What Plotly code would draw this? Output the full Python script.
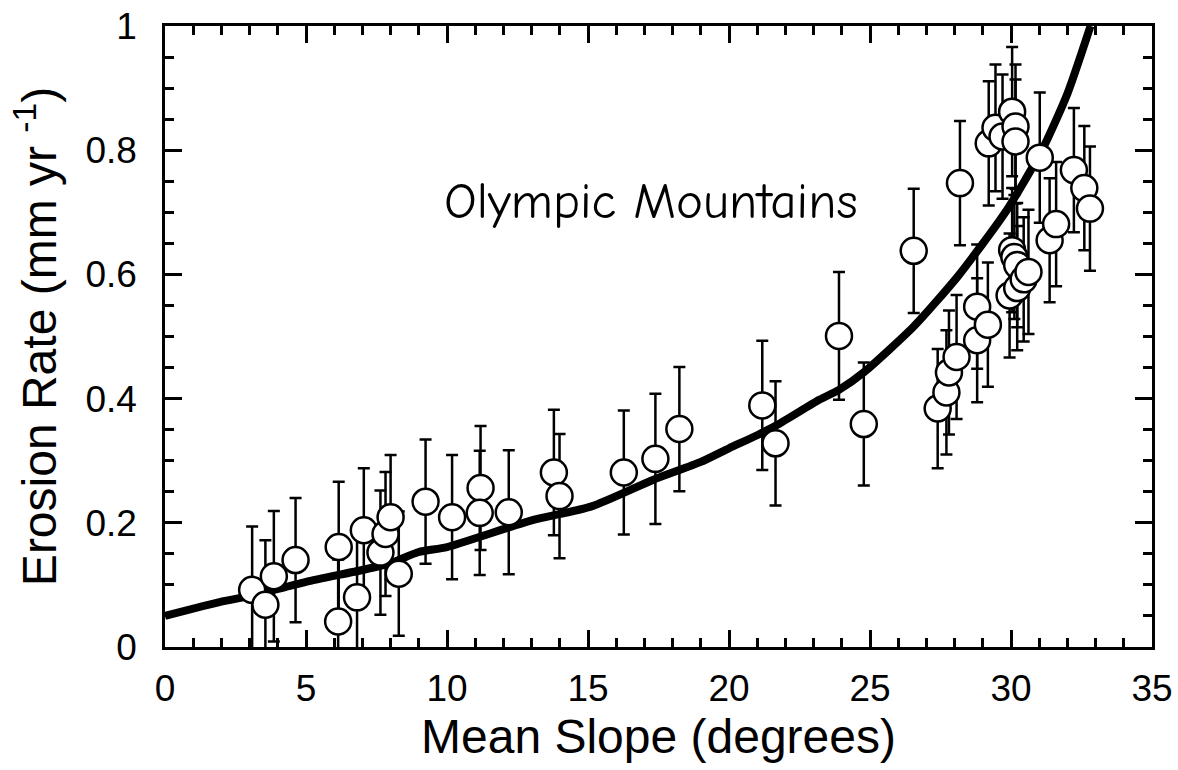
import plotly.graph_objects as go

# Data points (mean slope in degrees, erosion rate mm/yr, error)
slope = [3.09, 3.56, 3.86, 4.63, 6.16, 6.14, 6.81, 7.05, 7.64, 7.82, 8.00, 8.29,
         9.24, 10.18, 11.19, 11.16, 12.19, 13.79, 13.99, 16.27, 17.39, 18.24,
         21.18, 21.65, 23.90, 24.78, 26.55, 27.40, 27.71, 27.80, 28.07, 28.19,
         28.80, 28.80, 29.18, 29.21, 29.45, 29.70, 30.04, 30.16, 30.16,
         29.95, 30.04, 30.12, 30.22, 30.22, 30.45, 30.62, 31.02, 31.37, 31.60,
         32.23, 32.60, 32.80]
erosion = [0.092, 0.068, 0.114, 0.140, 0.161, 0.041, 0.080, 0.188, 0.152, 0.182, 0.209, 0.118,
           0.234, 0.209, 0.256, 0.216, 0.217, 0.281, 0.243, 0.281, 0.303, 0.351,
           0.389, 0.328, 0.501, 0.359, 0.638, 0.384, 0.410, 0.442, 0.467, 0.747,
           0.548, 0.494, 0.519, 0.811, 0.836, 0.822, 0.862, 0.838, 0.814,
           0.566, 0.639, 0.628, 0.615, 0.578, 0.592, 0.604, 0.788, 0.655, 0.681,
           0.768, 0.739, 0.706]
err = [0.102, 0.104, 0.105, 0.100, 0.105, 0.100, 0.100, 0.100, 0.100, 0.100, 0.100, 0.100,
       0.100, 0.100, 0.100, 0.100, 0.100, 0.101, 0.100, 0.100, 0.105, 0.100,
       0.104, 0.100, 0.103, 0.099, 0.100, 0.096, 0.100, 0.100, 0.100, 0.100,
       0.100, 0.100, 0.100, 0.100, 0.102, 0.100, 0.104, 0.100, 0.100,
       0.100, 0.100, 0.100, 0.100, 0.100, 0.100, 0.100, 0.105, 0.100, 0.100,
       0.100, 0.100, 0.100]

# Fitted curve
curve_x = [0, 2, 3, 5, 7, 8, 9, 10, 13, 15.1, 17.3, 19, 20, 21, 21.8, 23.2, 23.9,
           24.8, 26.55, 28.1, 29.8, 31.1, 32, 32.82]
curve_y = [0.05, 0.073, 0.082, 0.105, 0.124, 0.135, 0.153, 0.161, 0.204, 0.226,
           0.269, 0.298, 0.32, 0.341, 0.36, 0.398, 0.414, 0.443, 0.516, 0.596,
           0.7, 0.8, 0.891, 1.0]

x_ticks = [0, 5, 10, 15, 20, 25, 30, 35]
y_ticks = [0, 0.2, 0.4, 0.6, 0.8, 1]
y_tick_text = ["0", "0.2", "0.4", "0.6", "0.8", "1"]

FONT = "Liberation Sans, Arial, sans-serif"
TICKFONT = dict(family=FONT, size=37, color="black")

fig = go.Figure()
fig.add_trace(go.Scatter(
    x=curve_x, y=curve_y, mode="lines",
    line=dict(color="black", width=8, shape="spline", smoothing=0.6),
    hoverinfo="skip", showlegend=False))
fig.add_trace(go.Scatter(
    x=slope, y=erosion, mode="markers",
    marker=dict(symbol="circle", size=26, color="white",
                line=dict(color="black", width=2.5)),
    error_y=dict(type="data", array=err, visible=True, color="black",
                 thickness=2.5, width=6),
    showlegend=False))

fig.add_annotation(x=17.25, y=0.718, xref="x", yref="y",
                   text="Olympic Mountains", showarrow=False,
                   font=dict(family="Comic Sans MS, Comic Neue, Open Sans, sans-serif",
                             size=51, color="black"))

axis_common = dict(showline=True, linecolor="black", linewidth=2.5, mirror="allticks",
                   ticks="inside", ticklen=17, tickwidth=2.5, tickcolor="black",
                   showgrid=False, zeroline=False, automargin=False)

fig.update_xaxes(range=[0, 35], tickvals=x_ticks,
                 ticktext=[str(v) for v in x_ticks],
                 tickfont=TICKFONT,
                 minor=dict(dtick=1, ticks="inside", ticklen=9, tickwidth=2.5,
                            tickcolor="black", showgrid=False),
                 ticklabelstandoff=7,
                 title=dict(text="Mean Slope (degrees)", standoff=12,
                            font=dict(family=FONT, size=48, color="black")),
                 **axis_common)
fig.update_yaxes(range=[0, 1], tickvals=y_ticks, ticktext=y_tick_text,
                 tickfont=TICKFONT,
                 minor=dict(dtick=0.05, ticks="inside", ticklen=9, tickwidth=2.5,
                            tickcolor="black", showgrid=False),
                 ticklabelstandoff=18,
                 title=dict(text="Erosion Rate (mm yr <sup>-1</sup>)", standoff=14,
                            font=dict(family=FONT, size=48, color="black")),
                 **axis_common)

fig.update_layout(width=1178, height=770,
                  margin=dict(l=165, r=26, t=26, b=123),
                  paper_bgcolor="white", plot_bgcolor="white",
                  font=dict(family=FONT, color="black"))

fig.write_html("out.html", config={"displayModeBar": False},
               post_script="document.body.style.margin='0';")
